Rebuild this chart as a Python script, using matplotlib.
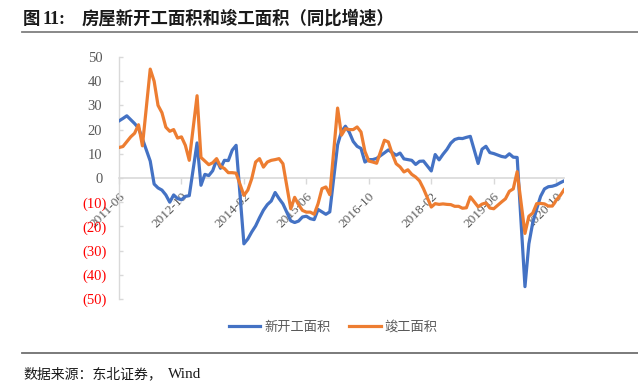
import numpy as np
import matplotlib
matplotlib.use("Agg")
import matplotlib.pyplot as plt
from matplotlib.lines import Line2D

# monthly, 2011-06 .. 2020-12 (January not published -> None, line connects across)
months = []
for y in range(2011, 2021):
    for m in range(1, 13):
        if (y == 2011 and m < 6):
            continue
        months.append(f"{y}-{m:02d}")

new_start = [
    23.6, 24.6, 25.7, 24.1, 22.5, 20.6, 16.2,                       # 2011
    None, 7.0, -2.5, -4.1, -5.0, -7.0, -10.0, -7.0, -8.5, -9.0, -7.6, -7.3,   # 2012
    None, 14.5, -3.0, 1.5, 1.0, 3.0, 7.5, 4.0, 7.3, 7.2, 11.5, 13.5,          # 2013
    None, -27.2, -25.2, -22.3, -19.8, -16.4, -13.3, -11.0, -9.5, -6.0, -8.5, -10.7,  # 2014
    None, -17.7, -18.4, -17.8, -16.1, -15.8, -16.8, -17.2, -13.0, -14.0, -15.0, -14.0,  # 2015
    None, 13.7, 19.2, 21.4, 18.9, 15.1, 13.1, 12.2, 6.6, 7.6, 7.6, 8.1,       # 2016
    None, 10.4, 11.6, 10.5, 9.4, 10.3, 7.9, 7.6, 7.3, 5.6, 6.9, 7.0,          # 2017
    None, 2.9, 9.7, 7.5, 9.8, 11.8, 14.4, 15.9, 16.4, 16.3, 16.8, 17.2,       # 2018
    None, 6.0, 11.9, 13.1, 10.5, 10.1, 9.5, 8.9, 8.6, 10.0, 8.6, 8.5,         # 2019
    None, -44.9, -27.2, -18.4, -12.8, -7.6, -4.5, -3.6, -3.4, -2.9, -2.0, -1.2,  # 2020
]

completed = [
    12.6, 13.0, 15.0, 17.0, 18.5, 22.0, 13.3,
    None, 45.0, 40.0, 30.0, 27.0, 21.0, 19.3, 20.0, 16.5, 17.0, 13.5, 7.3,
    None, 34.0, 8.5, 7.0, 5.5, 6.3, 8.0, 4.8, 3.9, 2.2, 2.2, 2.0,
    None, -7.2, -5.0, -0.3, 6.6, 8.0, 4.5, 6.6, 7.3, 7.6, 8.0, 5.9,
    None, -12.7, -8.0, -11.0, -13.4, -14.1, -14.1, -15.0, -10.6, -4.4, -3.7, -6.9,
    None, 28.9, 17.7, 20.4, 20.0, 20.0, 21.1, 19.0, 11.0, 7.0, 6.6, 6.1,
    None, 15.6, 14.9, 10.0, 5.9, 4.6, 2.5, 3.4, 1.5, 0.4, -1.2, -4.4,
    None, -12.0, -10.6, -10.9, -10.7, -10.9, -11.0, -11.7, -11.7, -12.5, -12.3, -7.8,
    None, -11.9, -10.8, -10.3, -12.4, -12.7, -11.3, -9.9, -8.6, -5.5, -4.5, 2.6,
    None, -22.9, -15.8, -14.5, -10.6, -10.5, -10.7, -11.6, -11.6, -9.2, -7.3, -4.9,
]

yticks = [50, 40, 30, 20, 10, 0, -10, -20, -30, -40, -50]

cjk = ['Noto Sans CJK SC', 'DejaVu Sans']
serif = 'Liberation Serif'

fig = plt.figure(figsize=(6.38, 3.88), dpi=100)
ax = fig.add_axes([119/638, 1-299/388, 445/638, 242/388])

x = np.arange(len(months))
for vals, col, lab in [(new_start, '#4472C4', '新开工面积'), (completed, '#ED7D31', '竣工面积')]:
    v = np.array([np.nan if a is None else a for a in vals], dtype=float)
    ok = ~np.isnan(v)
    ax.plot(x[ok], v[ok], color=col, lw=2.3, zorder=3, solid_joinstyle='round', label=lab)

ax.set_xlim(0, len(months) - 1)
ax.set_ylim(-50, 50)

# axes styling
for s in ['top', 'right']:
    ax.spines[s].set_visible(False)
ax.spines['bottom'].set_position(('data', 0))
ax.spines['bottom'].set_color('#d9d9d9')
ax.spines['left'].set_color('#d9d9d9')
ax.spines['bottom'].set_linewidth(1.2)
ax.spines['left'].set_linewidth(1.0)

ax.set_yticks(yticks)
ax.set_yticklabels([str(t) if t >= 0 else f"({-t})" for t in yticks], fontfamily=serif, fontsize=10.5)
ax.tick_params(axis='y', direction='in', length=3, color='#d9d9d9', width=1)
for t, tick in zip(yticks, ax.yaxis.get_major_ticks()):
    if t < 0:
        tick.label1.set_color('#ff0000')
        tick.set_pad(9)
    else:
        tick.label1.set_color('#595959')
        tick.set_pad(12)

xt = list(range(0, len(months), 16))
ax.set_xticks(xt)
ax.set_xticklabels([months[i] for i in xt], fontfamily=serif, fontsize=9.5, color='#595959',
                   rotation=45, ha='right', va='top', rotation_mode='anchor')
ax.tick_params(axis='x', direction='out', length=4, color='#d9d9d9', width=1, pad=5)

# legend
handles = [Line2D([], [], color='#4472C4', lw=2.3), Line2D([], [], color='#ED7D31', lw=2.3)]
fig.legend(handles, ['新开工面积', '竣工面积'], loc='center', bbox_to_anchor=(333/638, 1-327/388),
           ncol=2, frameon=False, prop={'family': cjk, 'size': 9.5}, labelcolor='#595959',
           handlelength=2.4, handletextpad=0.3, columnspacing=1.4)

# title, rules and source
fig.text(23/638, 1-19/388, '图', fontfamily=cjk, fontsize=12.5, fontweight='bold', va='center', color='#1a1a1a')
fig.text(43/638, 1-19/388, '11:', fontfamily=serif, fontsize=13, fontweight='bold', va='center', color='#1a1a1a')
fig.text(82/638, 1-19/388, '房屋新开工面积和竣工面积（同比增速）', fontfamily=cjk, fontsize=12.5,
         fontweight='bold', va='center', color='#1a1a1a')
fig.add_artist(Line2D([22/638, 1], [1-32/388, 1-32/388], color='#7f7f7f', lw=1.3))
fig.add_artist(Line2D([22/638, 1], [1-353/388, 1-353/388], color='#6f6f6f', lw=1.3))
fig.text(23/638, 1-374/388, '数据来源：东北证券，', fontfamily=cjk, fontsize=10, va='center', color='#1a1a1a')
fig.text(168/638, 1-374/388, 'Wind', fontfamily=serif, fontsize=11, va='center', color='#1a1a1a')

fig.savefig('out.png', dpi=100)
